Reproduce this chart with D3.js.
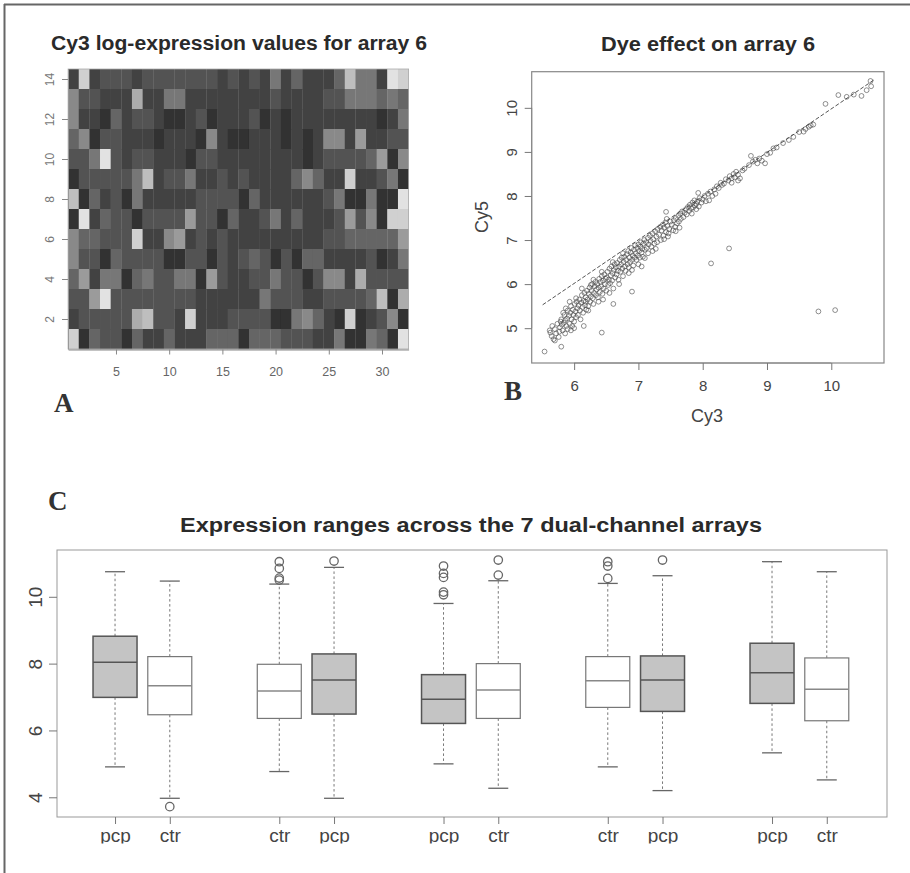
<!DOCTYPE html>
<html><head><meta charset="utf-8">
<script src="https://cdn.jsdelivr.net/npm/d3@7/dist/d3.min.js"></script>
<style>
body{margin:0;background:#fff;}
svg{display:block;font-family:"Liberation Sans",Arial,Helvetica,sans-serif;}
</style>
</head><body>
<svg id="chart" width="910" height="873"></svg>
<script>
// ---------- Panel A: Cy3 log-expression heat map (shade level 0 = darkest .. 10 = lightest)
// rows listed from y = 14 (top) down to y = 1 (bottom); 32 columns each
const heatRows = [
  [1,9,1,2,2,2,1,2,2,2,2,2,2,2,1,2, 1,2,1,4,1,3,1,1,1,3,8,4,4,1,10,9],
  [5,2,2,1,1,1,7,1,1,4,4,1,1,1,1,1, 1,1,1,2,1,1,1,1,2,2,4,4,4,3,4,3],
  [5,1,1,0,3,1,2,2,1,0,0,1,2,0,1,1, 1,2,0,1,0,1,1,1,1,1,1,1,1,0,1,4],
  [3,5,0,2,2,1,1,1,0,1,1,1,0,5,1,0, 0,1,1,1,0,1,0,1,5,5,1,6,1,1,2,2],
  [2,2,4,10,2,1,2,2,1,1,1,0,2,2,1,1, 1,1,1,1,1,1,0,1,2,2,2,2,3,6,0,5],
  [0,2,2,2,2,2,4,8,1,2,2,4,1,1,2,1, 2,1,1,1,1,3,5,3,1,1,9,1,1,2,4,0],
  [8,0,3,1,2,0,4,1,1,1,1,1,2,2,2,2, 0,3,1,1,1,1,1,1,2,4,0,0,4,0,0,10],
  [0,10,1,3,2,2,0,2,2,2,2,6,2,2,0,3, 1,1,2,4,1,3,1,1,1,2,6,2,5,0,9,9],
  [5,3,3,2,2,2,9,1,1,5,6,1,2,1,2,1, 1,1,1,1,1,1,1,1,2,2,3,3,3,3,3,6],
  [5,2,2,0,3,2,2,2,2,0,0,2,2,0,2,1, 2,3,2,0,2,0,3,3,1,1,1,1,2,0,1,4],
  [3,6,1,4,4,0,3,4,2,2,4,4,0,6,2,1, 1,2,2,4,2,2,0,2,5,5,1,7,2,2,2,2],
  [2,2,6,10,2,2,2,2,2,2,2,2,1,1,1,1, 1,1,4,2,2,2,1,1,2,2,2,2,3,8,0,7],
  [1,2,2,2,2,2,7,8,2,2,1,9,1,1,1,2, 2,2,2,0,0,4,5,3,1,0,9,0,1,2,5,0],
  [9,0,3,2,2,0,3,1,1,3,1,1,1,3,3,3, 0,3,3,3,2,2,2,1,1,4,0,0,4,3,0,10]
];
const heatXTicks = [5,10,15,20,25,30];
const heatYTicks = [2,4,6,8,10,12,14];

// ---------- Panel B: Cy3 vs Cy5 scatter
const dyePoints = [
 [5.62,4.95],[5.65,4.82],[5.68,4.75],[5.70,4.98],[5.66,5.05],[5.72,4.88],[5.63,4.90],[5.74,5.10],[5.70,4.72],[5.76,4.80],
 [5.78,5.02],[5.80,5.20],[5.82,4.95],[5.84,5.12],[5.85,5.30],[5.86,4.88],[5.88,5.05],[5.89,5.22],[5.90,5.40],[5.83,5.35],
 [5.79,5.15],[5.87,5.45],[5.81,5.08],[5.77,4.92],[5.90,4.98],[5.86,5.18],
 [5.92,5.28],[5.93,5.10],[5.94,5.35],[5.95,5.50],[5.96,5.20],[5.97,5.05],[5.98,5.42],[5.99,5.30],[6.00,5.15],[6.01,5.55],
 [6.02,5.38],[6.03,5.25],[6.04,5.60],[6.05,5.45],[5.95,4.95],[6.00,5.00],[5.93,5.60],[6.03,5.68],
 [6.06,5.30],[6.07,5.52],[6.08,5.65],[6.09,5.40],[6.10,5.20],[6.11,5.58],[6.12,5.75],[6.13,5.48],[6.14,5.35],[6.15,5.62],
 [6.16,5.80],[6.17,5.52],[6.18,5.70],[6.19,5.42],[6.20,5.85],[6.15,5.05],[6.12,5.90],[6.18,5.60],
 [6.21,5.65],[6.22,5.50],[6.23,5.78],[6.24,5.92],[6.25,5.60],[6.26,5.72],[6.27,5.85],[6.28,6.00],[6.29,5.68],[6.30,5.55],
 [6.31,5.80],[6.32,5.95],[6.33,6.05],[6.34,5.75],[6.35,5.88],[6.22,5.40],[6.30,6.10],[6.26,5.98],
 [6.36,6.00],[6.37,5.70],[6.38,5.92],[6.39,6.12],[6.40,5.82],[6.41,6.05],[6.42,5.95],[6.43,6.18],[6.44,5.78],[6.45,6.08],
 [6.46,5.90],[6.47,6.22],[6.48,6.00],[6.49,6.12],[6.50,5.85],[6.38,5.60],[6.45,5.65],[6.43,6.28],
 [6.51,6.15],[6.52,6.28],[6.53,5.98],[6.54,6.10],[6.55,6.35],[6.56,6.02],[6.57,6.20],[6.58,6.40],[6.59,6.08],[6.60,6.25],
 [6.61,5.90],[6.62,6.32],[6.63,6.45],[6.64,6.15],[6.65,6.38],[6.55,5.80],[6.60,6.50],
 [6.66,6.22],[6.67,6.48],[6.68,6.30],[6.69,6.10],[6.70,6.40],[6.71,6.55],[6.72,6.28],[6.73,6.45],[6.74,6.60],[6.75,6.35],
 [6.76,6.18],[6.77,6.50],[6.78,6.62],[6.79,6.40],[6.80,6.30],[6.70,6.00],[6.76,6.70],
 [6.81,6.55],[6.82,6.68],[6.83,6.45],[6.84,6.75],[6.85,6.38],[6.86,6.60],[6.87,6.50],[6.88,6.72],[6.89,6.82],[6.90,6.55],
 [6.91,6.65],[6.92,6.42],[6.93,6.78],[6.94,6.60],[6.95,6.88],[6.85,6.25],[6.90,6.32],
 [6.96,6.70],[6.97,6.55],[6.98,6.82],[6.99,6.65],[7.00,6.90],[7.01,6.75],[7.02,6.60],[7.03,6.85],[7.04,6.95],[7.05,6.72],
 [7.06,6.80],[7.07,6.62],[7.08,6.92],[7.09,7.00],[7.10,6.78],[7.00,6.45],[7.05,6.40],
 [7.12,6.95],[7.13,6.82],[7.15,7.05],[7.16,6.90],[7.18,7.10],[7.19,6.98],[7.20,6.85],[7.22,7.15],[7.23,7.02],[7.25,6.92],
 [7.26,7.20],[7.28,7.08],[7.29,6.95],[7.30,7.25],[7.15,6.70],[7.22,6.75],[7.27,6.80],
 [7.32,7.12],[7.34,7.30],[7.35,7.00],[7.36,7.22],[7.38,7.35],[7.39,7.10],[7.40,7.28],[7.42,7.40],[7.43,7.18],[7.45,7.32],
 [7.46,7.08],[7.48,7.25],[7.50,7.42],[7.44,7.48],[7.47,7.15],[7.40,7.02],
 [7.52,7.35],[7.54,7.22],[7.55,7.45],[7.57,7.30],[7.58,7.50],[7.60,7.38],[7.62,7.55],[7.63,7.42],[7.65,7.60],[7.66,7.48],
 [7.68,7.65],[7.70,7.52],[7.58,7.20],[7.64,7.28],
 [7.72,7.62],[7.74,7.70],[7.75,7.58],[7.77,7.75],[7.79,7.66],[7.80,7.80],[7.82,7.72],[7.84,7.85],[7.85,7.74],[7.87,7.90],
 [7.88,7.78],[7.90,7.82],[7.92,7.88],[7.94,7.76],[7.95,7.95],[7.83,7.60],[7.90,7.70],
 [7.98,7.85],[8.00,7.92],[8.03,8.00],[8.05,7.88],[8.08,8.05],[8.12,8.10],[8.15,8.00],[8.18,8.15],[8.20,8.05],[8.22,8.22],
 [8.25,8.18],[8.28,8.30],[8.30,8.25],[8.10,7.90],
 [8.33,8.28],[8.36,8.38],[8.40,8.35],[8.42,8.45],[8.45,8.40],[8.48,8.50],[8.50,8.42],[8.52,8.55],[8.55,8.48],[8.58,8.40],
 [8.62,8.58],[8.65,8.62],[8.45,8.30],[8.55,8.35],
 [8.72,8.70],[8.75,8.91],[8.78,8.78],[8.82,8.82],[8.85,8.74],[8.88,8.85],[8.92,8.80],[8.97,8.74],[9.00,8.95],[9.05,8.98],
 [9.10,9.08],[9.15,9.10],
 [9.25,9.20],[9.34,9.27],[9.41,9.34],[9.50,9.45],[9.57,9.46],[9.60,9.52],[9.65,9.57],[9.68,9.60],[9.72,9.62],[9.91,10.09],
 [10.11,10.29],[10.24,10.25],[10.35,10.30],[10.47,10.27],[10.55,10.40],[10.62,10.49],[10.61,10.61],
 [5.54,4.47],[5.80,4.58],[6.43,4.90],[6.61,5.55],[6.90,5.83],[7.10,6.59],[7.43,7.64],[7.93,8.07],[8.13,6.47],[8.41,6.81],
 [9.80,5.38],[10.06,5.41]
];
const dyeLine = [[5.51,5.53],[10.66,10.63]];
const dyeXTicks = [6,7,8,9,10];
const dyeYTicks = [5,6,7,8,9,10];

// ---------- Panel C: box plots
const boxLabels   = ["pcp","ctr","ctr","pcp","pcp","ctr","ctr","pcp","pcp","ctr"];
const boxAt       = [1,2,4,5,7,8,10,11,13,14];
const boxLowWhisk = [4.91,3.97,4.77,3.97,5.00,4.27,4.91,4.20,5.33,4.52];
const boxQ1       = [6.99,6.47,6.36,6.49,6.21,6.36,6.69,6.57,6.81,6.29];
const boxMedian   = [8.04,7.34,7.18,7.51,6.93,7.21,7.49,7.51,7.73,7.23];
const boxQ3       = [8.82,8.21,7.98,8.29,7.67,8.00,8.21,8.23,8.61,8.17];
const boxHighWhisk= [10.75,10.47,10.38,10.88,9.80,10.48,10.40,10.63,11.05,10.75];
const boxOutliers = [[],[3.72],[10.50,10.56,10.85,11.05],[11.07],[10.06,10.14,10.58,10.70,10.92],
                     [10.65,11.10],[10.55,10.92,11.05],[11.10],[],[]];
const boxYTicks = [4,6,8,10];

const svg = d3.select("#chart");
svg.append("rect").attr("width",910).attr("height",873).attr("fill","#fff");
const defs = svg.append("defs");
defs.append("filter").attr("id","soft").append("feGaussianBlur").attr("stdDeviation",0.7);

// frame (top and left edges visible)
svg.append("line").attr("x1",4).attr("x2",910).attr("y1",4.5).attr("y2",4.5).attr("stroke","#666").attr("stroke-width",2);
svg.append("line").attr("x1",4.5).attr("x2",4.5).attr("y1",4).attr("y2",873).attr("stroke","#666").attr("stroke-width",2);

function rotateYLabels(g, off, size, color){
  g.selectAll(".tick text")
    .attr("transform","rotate(-90)")
    .attr("x",0).attr("y",-off).attr("dy",0)
    .attr("text-anchor","middle")
    .attr("font-size",size).attr("fill",color);
}
function panelLetter(x,y,t){
  svg.append("text").attr("x",x).attr("y",y).text(t)
    .attr("font-family","'Liberation Serif','DejaVu Serif',serif").attr("font-weight","bold")
    .attr("font-size",27).attr("fill","#333");
}

// ================= Panel A
{
  const x = d3.scaleLinear().domain([0.5,32.5]).range([68.1,408.6]);
  const y = d3.scaleLinear().domain([0.5,14.5]).range([349,69]);
  const shade = d3.scaleLinear().domain([0,1,2,10]).range(["#303030","#434343","#535353","#e2e2e2"]);
  const cells = [];
  heatRows.forEach((row,i)=>row.forEach((v,j)=>cells.push({r:14-i,c:j+1,v})));
  svg.append("g").attr("filter","url(#soft)").selectAll("rect").data(cells).join("rect")
    .attr("x",d=>x(d.c-0.5)).attr("y",d=>y(d.r+0.5))
    .attr("width",d=>x(d.c+0.5)-x(d.c-0.5)+0.3).attr("height",d=>y(d.r-0.5)-y(d.r+0.5)+0.3)
    .attr("fill",d=>shade(d.v));
  svg.append("rect").attr("x",68.1).attr("y",69).attr("width",340.5).attr("height",280)
    .attr("fill","none").attr("stroke","#aaa").attr("stroke-width",0.8);
  const ax = svg.append("g").attr("transform","translate(0,349.5)")
    .call(d3.axisBottom(x).tickValues(heatXTicks).tickSize(5).tickSizeOuter(0));
  ax.select(".domain").attr("stroke","#888");
  ax.selectAll(".tick line").attr("stroke","#888");
  ax.selectAll(".tick text").attr("font-size",12.5).attr("fill","#666").attr("y",18).attr("dy","0.71em");
  const ay = svg.append("g").attr("transform","translate(68,0)")
    .call(d3.axisLeft(y).tickValues(heatYTicks).tickSize(6).tickSizeOuter(0));
  ay.select(".domain").attr("stroke","#999");
  ay.selectAll(".tick line").attr("stroke","#888");
  rotateYLabels(ay,14.5,12,"#777");
  svg.append("text").attr("x",239).attr("y",50).attr("text-anchor","middle")
    .attr("font-weight","bold").attr("font-size",20).attr("fill","#2a2a2a")
    .attr("textLength",376).attr("lengthAdjust","spacingAndGlyphs")
    .text("Cy3 log-expression values for array 6");
  panelLetter(54,412,"A");
}

// ================= Panel B
{
  const x = d3.scaleLinear().domain([5.34,10.82]).range([531.7,884]);
  const y = d3.scaleLinear().domain([4.21,10.82]).range([363,71.7]);
  svg.append("rect").attr("x",531.7).attr("y",71.7).attr("width",352.3).attr("height",291.3)
    .attr("fill","none").attr("stroke","#888").attr("stroke-width",1.2);
  svg.append("path").datum(dyeLine)
    .attr("d",d3.line().x(d=>x(d[0])).y(d=>y(d[1])))
    .attr("stroke","#555").attr("stroke-width",1).attr("stroke-dasharray","4,2").attr("fill","none");
  svg.append("g").selectAll("circle").data(dyePoints).join("circle")
    .attr("cx",d=>x(d[0])).attr("cy",d=>y(d[1])).attr("r",2.4)
    .attr("fill","none").attr("stroke","#444").attr("stroke-width",0.7).attr("stroke-opacity",0.85);
  const ax = svg.append("g").attr("transform","translate(0,363)")
    .call(d3.axisBottom(x).tickValues(dyeXTicks).tickFormat(d3.format("d")).tickSize(7).tickSizeOuter(0));
  ax.select(".domain").attr("stroke","#888").attr("d",`M${x(6)},0H${x(10)}`);
  ax.selectAll(".tick line").attr("stroke","#777");
  ax.selectAll(".tick text").attr("font-size",15).attr("fill","#444").attr("dy","1.2em");
  const ay = svg.append("g").attr("transform","translate(531.7,0)")
    .call(d3.axisLeft(y).tickValues(dyeYTicks).tickFormat(d3.format("d")).tickSize(7).tickSizeOuter(0));
  ay.select(".domain").attr("stroke","#888").attr("d",`M0,${y(5)}V${y(10)}`);
  ay.selectAll(".tick line").attr("stroke","#777");
  rotateYLabels(ay,14.5,15,"#444");
  svg.append("text").attr("x",708).attr("y",51).attr("text-anchor","middle")
    .attr("font-weight","bold").attr("font-size",21).attr("fill","#2a2a2a")
    .attr("textLength",214).attr("lengthAdjust","spacingAndGlyphs")
    .text("Dye effect on array 6");
  svg.append("text").attr("x",707).attr("y",422).attr("text-anchor","middle")
    .attr("font-size",18).attr("fill","#444").text("Cy3");
  svg.append("text").attr("transform","translate(488,217) rotate(-90)").attr("text-anchor","middle")
    .attr("font-size",18).attr("fill","#444").text("Cy5");
  panelLetter(504,400,"B");
}

// ================= Panel C
{
  const x = d3.scaleLinear().domain([-0.06,15.1]).range([57,887]);
  const y = d3.scaleLinear().domain([3.41,11.40]).range([817,550]);
  const bw = 44, cap = 20;
  svg.append("rect").attr("x",57).attr("y",550).attr("width",830).attr("height",267)
    .attr("fill","none").attr("stroke","#999").attr("stroke-width",1);
  const boxes = boxLabels.map((lab,i)=>({lab,at:boxAt[i],lo:boxLowWhisk[i],q1:boxQ1[i],
    med:boxMedian[i],q3:boxQ3[i],hi:boxHighWhisk[i],out:boxOutliers[i]}));
  const g = svg.append("g").selectAll("g").data(boxes).join("g");
  g.append("line").attr("x1",d=>x(d.at)).attr("x2",d=>x(d.at)).attr("y1",d=>y(d.q3)).attr("y2",d=>y(d.hi))
    .attr("stroke","#777").attr("stroke-dasharray","2.5,2.5");
  g.append("line").attr("x1",d=>x(d.at)).attr("x2",d=>x(d.at)).attr("y1",d=>y(d.q1)).attr("y2",d=>y(d.lo))
    .attr("stroke","#777").attr("stroke-dasharray","2.5,2.5");
  g.append("line").attr("x1",d=>x(d.at)-cap/2).attr("x2",d=>x(d.at)+cap/2).attr("y1",d=>y(d.hi)).attr("y2",d=>y(d.hi))
    .attr("stroke","#666").attr("stroke-width",1.3);
  g.append("line").attr("x1",d=>x(d.at)-cap/2).attr("x2",d=>x(d.at)+cap/2).attr("y1",d=>y(d.lo)).attr("y2",d=>y(d.lo))
    .attr("stroke","#666").attr("stroke-width",1.3);
  g.append("rect").attr("x",d=>x(d.at)-bw/2).attr("width",bw)
    .attr("y",d=>y(d.q3)).attr("height",d=>y(d.q1)-y(d.q3))
    .attr("fill",d=>d.lab==="pcp"?"#c4c4c4":"#fff")
    .attr("stroke",d=>d.lab==="pcp"?"#555":"#777").attr("stroke-width",d=>d.lab==="pcp"?1.5:1.2);
  g.append("line").attr("x1",d=>x(d.at)-bw/2).attr("x2",d=>x(d.at)+bw/2).attr("y1",d=>y(d.med)).attr("y2",d=>y(d.med))
    .attr("stroke",d=>d.lab==="pcp"?"#555":"#888").attr("stroke-width",1.5);
  g.selectAll("circle").data(d=>d.out.map(v=>({at:d.at,v}))).join("circle")
    .attr("cx",d=>x(d.at)).attr("cy",d=>y(d.v)).attr("r",4.2)
    .attr("fill","none").attr("stroke","#666").attr("stroke-width",1.3);
  // bottom axis; labels cut at y = 843 like the scanned original
  defs.append("clipPath").attr("id","clipC").append("rect")
    .attr("x",0).attr("y",0).attr("width",910).attr("height",843.5);
  const axWrap = svg.append("g").attr("clip-path","url(#clipC)");
  const ax = axWrap.append("g").attr("transform","translate(0,817)")
    .call(d3.axisBottom(x).tickValues(boxAt).tickFormat((d,i)=>boxLabels[i]).tickSize(7).tickSizeOuter(0));
  ax.select(".domain").remove();
  ax.selectAll(".tick line").attr("stroke","#777");
  ax.selectAll(".tick text").attr("font-size",19).attr("fill","#444").attr("y",25).attr("dy",0);
  const ay = svg.append("g").attr("transform","translate(57,0)")
    .call(d3.axisLeft(y).tickValues(boxYTicks).tickSize(8).tickSizeOuter(0));
  ay.select(".domain").remove();
  ay.selectAll(".tick line").attr("stroke","#777");
  rotateYLabels(ay,15.5,19,"#444");
  svg.append("text").attr("x",471).attr("y",532).attr("text-anchor","middle")
    .attr("font-weight","bold").attr("font-size",20).attr("fill","#2a2a2a")
    .attr("textLength",582).attr("lengthAdjust","spacingAndGlyphs")
    .text("Expression ranges across the 7 dual-channel arrays");
  panelLetter(48,510,"C");
}
</script>
</body></html>
